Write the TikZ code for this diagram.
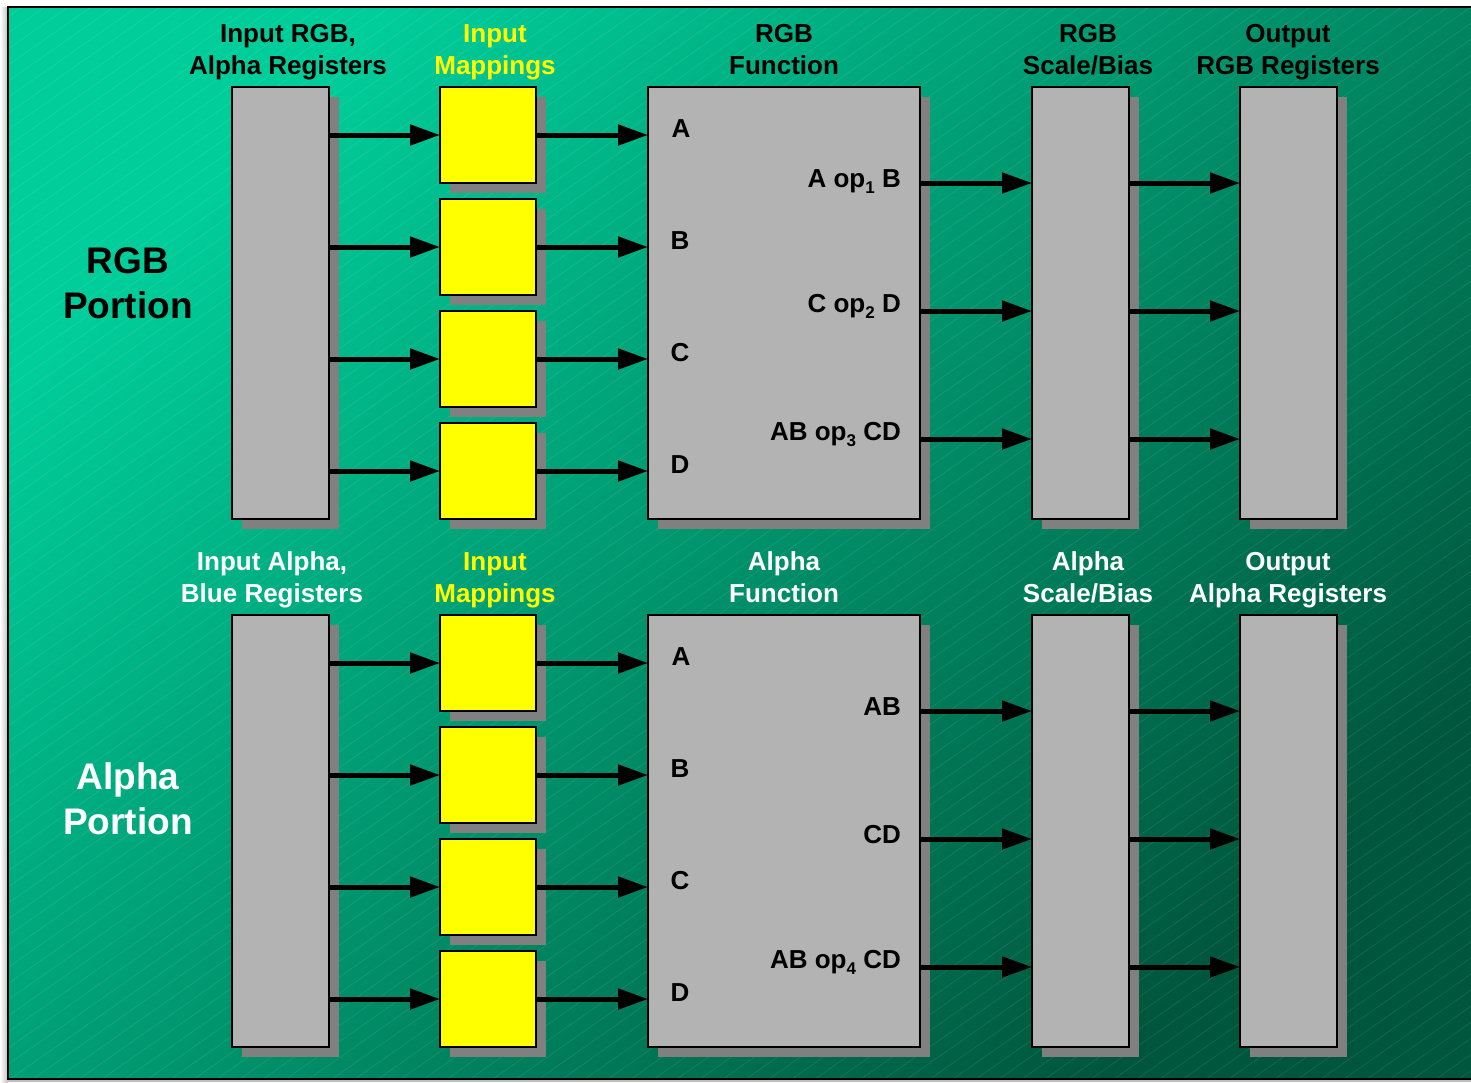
\documentclass[tikz,border=0pt]{standalone}
\usepackage{fontspec}
\setmainfont{Liberation Sans}
\usetikzlibrary{arrows.meta,shadows}
\definecolor{boxgray}{RGB}{179,179,179}
\definecolor{shadowc}{RGB}{128,128,128}
\definecolor{gtop}{RGB}{0,206,154}
\definecolor{gbot}{RGB}{0,86,60}
\definecolor{ylw}{RGB}{255,255,0}
\newcommand\opsub[1]{\raisebox{-6pt}{\fontsize{17}{17}\selectfont #1}}
\begin{document}
\begin{tikzpicture}[x=1pt,y=-1pt,
  every node/.style={font=\bfseries\fontsize{26}{32}\selectfont},
  box/.style={draw=black, line width=1.6pt, fill=boxgray, inner sep=0pt, outer sep=0pt,
    anchor=north west,
    general shadow={shadow xshift=10pt, shadow yshift=-10pt, fill=shadowc, draw=none}},
  regbox/.style={box, minimum width=97pt, minimum height=432pt},
  mapbox/.style={box, fill=ylw, minimum width=96pt, minimum height=96pt},
  funbox/.style={box, minimum width=272pt, minimum height=432pt},
  arr/.style={line width=5pt, -{Triangle[length=30pt,width=20pt]}},
  head/.style={align=center, inner sep=0pt, anchor=base},
  portion/.style={align=center, inner sep=0pt, font=\bfseries\fontsize{37}{45}\selectfont},
  flab/.style={inner sep=0pt}]
\useasboundingbox (0,0) rectangle (1471,1082);
\clip (0,0) rectangle (1471,1082);
% page and frame
\fill[white] (0,0) rectangle (1471,1082);
\shade[left color=white, right color=black!25] (0,7) rectangle (8,1082);
\fill[black!25] (8,1079) rectangle (1471,1082);
\shade[top color=gtop, bottom color=gbot, shading angle=45] (8,7) rectangle (1471,1079);
\begin{scope}
  \clip (8,7) rectangle (1471,1079);
  \foreach \i in {-1600,-1577,...,1480}
    \draw[white, opacity=0.1, line width=0.6pt] (\i,1079) -- ++(1540,-1079);
\end{scope}
\draw[black, line width=1.6pt] (1480,7) -- (8,7) -- (8,1079) -- (1480,1079);

% sections
\foreach \s/\dy in {T/0, B/528}{
  \node[regbox] (in\s) at (232,87+\dy) {};
  \node[mapbox] (map\s1) at (440,87+\dy) {};
  \node[mapbox] (map\s2) at (440,199+\dy) {};
  \node[mapbox] (map\s3) at (440,311+\dy) {};
  \node[mapbox] (map\s4) at (440,423+\dy) {};
  \node[funbox] (fun\s) at (648,87+\dy) {};
  \node[regbox] (sb\s) at (1032,87+\dy) {};
  \node[regbox] (out\s) at (1240,87+\dy) {};
  \foreach \k in {1,2,3,4}{
    \draw[arr] (in\s.east |- map\s\k) -- (map\s\k.west);
    \draw[arr] (map\s\k.east) -- (fun\s.west |- map\s\k);
  }
  \node[flab] (fa\s) at (681,129+\dy) {A};
  \node[flab] (fb\s) at (680,241+\dy) {B};
  \node[flab] (fc\s) at (680,353+\dy) {C};
  \node[flab] (fd\s) at (680,465+\dy) {D};
  \coordinate (o\s1) at (920,183+\dy);
  \coordinate (o\s2) at (920,311+\dy);
  \coordinate (o\s3) at (920,439+\dy);
  \foreach \k in {1,2,3}{
    \draw[arr] (o\s\k) -- (sb\s.west |- o\s\k);
    \draw[arr] (sb\s.east |- o\s\k) -- (out\s.west |- o\s\k);
  }
}

% function output labels
\node[flab, anchor=base east] (l1) at (901,187) {A op\opsub{1} B};
\node[flab, anchor=base east] (l2) at (901,312) {C op\opsub{2} D};
\node[flab, anchor=base east] (l3) at (901,440) {AB op\opsub{3} CD};
\node[flab, anchor=base east] (l4) at (901,715) {AB};
\node[flab, anchor=base east] (l5) at (901,843) {CD};
\node[flab, anchor=base east] (l6) at (901,968) {AB op\opsub{4} CD};

% headers top
\node[head, text=black] (h1) at (288,74) {Input RGB,\\Alpha Registers};
\node[head, text=ylw] (h2) at (495,74) {Input\\Mappings};
\node[head, text=black] (h3) at (784,74) {RGB\\Function};
\node[head, text=black] (h4) at (1088,74) {RGB\\Scale/Bias};
\node[head, text=black] (h5) at (1288,74) {Output\\RGB Registers};
% headers bottom
\node[head, text=white] (h6) at (272,602) {Input Alpha,\\Blue Registers};
\node[head, text=ylw] (h7) at (495,602) {Input\\Mappings};
\node[head, text=white] (h8) at (784,602) {Alpha\\Function};
\node[head, text=white] (h9) at (1088,602) {Alpha\\Scale/Bias};
\node[head, text=white] (h10) at (1288,602) {Output\\Alpha Registers};

% portions
\node[portion, text=black] (p1) at (128,283) {RGB\\Portion};
\node[portion, text=white] (p2) at (128,799) {Alpha\\Portion};
\end{tikzpicture}
\end{document}
